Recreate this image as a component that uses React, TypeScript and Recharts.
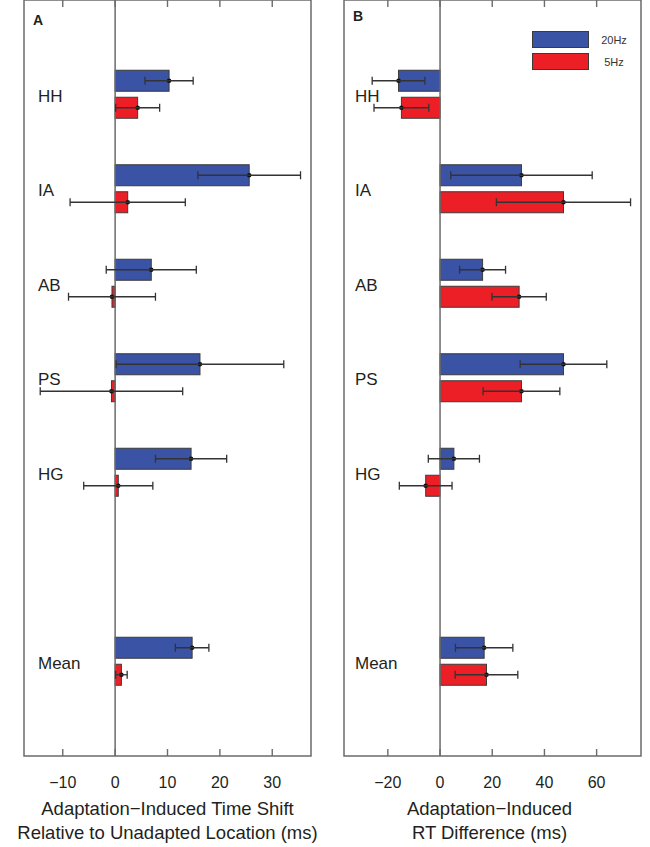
import React from 'react';
import {
    BarChart,
    Bar,
    XAxis,
    YAxis,
    ErrorBar,
    ReferenceLine,
    ReferenceArea,
    Legend,
} from 'recharts';

const REGIONS = ['HH', 'IA', 'AB', 'PS', 'HG', 'Mean'];
// row 6 is left empty between HG and Mean
const ROW_POS = [1, 2, 3, 4, 5, 7];

const SHIFT_20HZ = [10.3, 25.6, 6.9, 16.2, 14.5, 14.7];
const SHIFT_20HZ_ERR = [4.6, 9.8, 8.6, 16.0, 6.8, 3.2];
const SHIFT_5HZ = [4.3, 2.4, -0.6, -0.7, 0.6, 1.2];
const SHIFT_5HZ_ERR = [4.2, 11.0, 8.3, 13.6, 6.6, 1.1];

const RT_20HZ = [-15.9, 31.2, 16.3, 47.3, 5.3, 16.9];
const RT_20HZ_ERR = [10.1, 27.1, 8.8, 16.6, 9.8, 11.0];
const RT_5HZ = [-14.8, 47.3, 30.3, 31.2, -5.5, 17.8];
const RT_5HZ_ERR = [10.5, 25.7, 10.4, 14.7, 10.1, 12.0];

const SHIFT_TICKS = [-10, 0, 10, 20, 30];
const RT_TICKS = [-20, 0, 20, 40, 60];

const BLUE = '#3a53a4';
const RED = '#ed1f26';
const INK = '#231f20';
const FRAME = '#6b6b6b';
const FONT = '"Liberation Sans", Arial, sans-serif';

const fmtTick = (v: number) => (v < 0 ? '\u2212' + Math.abs(v) : String(v));

const BottomTick = (props: any) => {
    const { x, y, payload } = props;
    return (
        <g>
            <line x1={x} x2={x} y1={y} y2={y - 7} stroke={FRAME} strokeWidth={1.4} />
            <text
                x={x}
                y={y + 32}
                textAnchor="middle"
                fontSize={16}
                fontFamily={FONT}
                fill={INK}
            >
                {fmtTick(payload.value)}
            </text>
        </g>
    );
};

const TopTick = (props: any) => {
    const { x, y } = props;
    return <line x1={x} x2={x} y1={y} y2={y + 7} stroke={FRAME} strokeWidth={1.4} />;
};

const makeRowTick = (inset: number) => (props: any) => {
    const { x, y, payload } = props;
    const idx = ROW_POS.indexOf(payload.value);
    return (
        <text x={x + inset} y={y + 7} textAnchor="start" fontSize={17} fontFamily={FONT} fill={INK}>
            {idx >= 0 ? REGIONS[idx] : ''}
        </text>
    );
};

const makeShape = (key: string, fill: string) => (p: any) => {
    const v = p.payload[key];
    const left = Math.min(p.x, p.x + p.width);
    const w = Math.abs(p.width);
    const end = v < 0 ? left : left + w;
    return (
        <g>
            <rect x={left} y={p.y} width={w} height={p.height} fill={fill} stroke="#3b3b3b" strokeWidth={1} />
            <circle cx={end} cy={p.y + p.height / 2} r={2.3} fill="#111" />
        </g>
    );
};

const LegendBox = (props: any) => {
    const { payload } = props;
    return (
        <div style={{ fontFamily: FONT }}>
            {(payload || []).map((entry: any) => (
                <div key={entry.value} style={{ display: 'flex', alignItems: 'center', height: 17, marginBottom: 5 }}>
                    <div
                        style={{
                            width: 55,
                            height: 15,
                            background: entry.color,
                            border: '1px solid #3b3b3b',
                        }}
                    />
                    <span style={{ width: 28, marginLeft: 11, textAlign: 'center', fontSize: 11, color: '#333' }}>
                        {entry.value}
                    </span>
                </div>
            ))}
        </div>
    );
};

interface PanelProps {
    left: number;
    width: number;
    marginLeft: number;
    marginRight: number;
    letter: string;
    letterX: number;
    letterY: number;
    rowInset: number;
    domain: [number, number];
    ticks: number[];
    v20: number[];
    e20: number[];
    v5: number[];
    e5: number[];
    title: string[];
    titleShift: number;
    legend?: boolean;
}

function Panel(p: PanelProps) {
    const data = REGIONS.map((r, i) => ({
        region: r,
        pos: ROW_POS[i],
        hz20: p.v20[i],
        hz20Err: p.e20[i],
        hz5: p.v5[i],
        hz5Err: p.e5[i],
    }));

    const titleContent = (lp: any) => {
        const vb = lp.viewBox || {};
        const cx = vb.x + vb.width / 2 + p.titleShift;
        return (
            <text textAnchor="middle" fontSize={18.5} fontFamily={FONT} fill={INK}>
                <tspan x={cx} y={vb.y + 59}>{p.title[0]}</tspan>
                <tspan x={cx} y={vb.y + 83}>{p.title[1]}</tspan>
            </text>
        );
    };

    return (
        <div style={{ position: 'absolute', left: p.left, top: 0, width: p.width, height: 847 }}>
            <BarChart
                width={p.width}
                height={847}
                data={data}
                layout="vertical"
                margin={{ top: -1, right: p.marginRight, bottom: 90, left: p.marginLeft - 1 }}
                barSize={21}
                barGap={6}
            >
                <XAxis
                    type="number"
                    domain={p.domain}
                    ticks={p.ticks}
                    allowDataOverflow
                    height={1}
                    axisLine={false}
                    tickLine={false}
                    tickSize={0}
                    tickMargin={0}
                    tick={<BottomTick />}
                    interval={0}
                    label={{ content: titleContent }}
                />
                <XAxis
                    xAxisId="top"
                    orientation="top"
                    type="number"
                    domain={p.domain}
                    ticks={p.ticks}
                    allowDataOverflow
                    height={1}
                    axisLine={false}
                    tickLine={false}
                    tickSize={0}
                    tickMargin={0}
                    tick={<TopTick />}
                    interval={0}
                />
                <YAxis
                    type="number"
                    dataKey="pos"
                    domain={[0, 8]}
                    ticks={ROW_POS}
                    width={1}
                    axisLine={false}
                    tickLine={false}
                    tickSize={0}
                    tickMargin={0}
                    interval={0}
                    tick={makeRowTick(p.rowInset)}
                />
                <ReferenceArea
                    x1={p.domain[0]}
                    x2={p.domain[1]}
                    y1={0}
                    y2={8}
                    fill="none"
                    stroke={FRAME}
                    strokeWidth={1.5}
                    ifOverflow="visible"
                />
                <ReferenceLine x={0} stroke={FRAME} strokeWidth={1.5} />
                <Bar dataKey="hz20" name="20Hz" fill={BLUE} isAnimationActive={false} shape={makeShape('hz20', BLUE)}>
                    <ErrorBar dataKey="hz20Err" direction="x" width={4} stroke="#333" strokeWidth={1.3} />
                </Bar>
                <Bar dataKey="hz5" name="5Hz" fill={RED} isAnimationActive={false} shape={makeShape('hz5', RED)}>
                    <ErrorBar dataKey="hz5Err" direction="x" width={4} stroke="#333" strokeWidth={1.3} />
                </Bar>
                {p.legend && (
                    <Legend
                        layout="vertical"
                        align="center"
                        verticalAlign="middle"
                        content={<LegendBox />}
                        wrapperStyle={{ position: 'absolute', left: 202, top: 31, width: 100 }}
                    />
                )}
            </BarChart>
            <div
                style={{
                    position: 'absolute',
                    left: p.letterX,
                    top: p.letterY,
                    fontFamily: FONT,
                    fontWeight: 'bold',
                    fontSize: 14,
                    color: INK,
                    lineHeight: 1,
                }}
            >
                {p.letter}
            </div>
        </div>
    );
}

export default function App() {
    return (
        <div style={{ position: 'absolute', left: 0, top: 0, width: 650, height: 847, background: '#fff' }}>
            <Panel
                left={0}
                width={345}
                marginLeft={24}
                marginRight={34}
                letter="A"
                letterX={33}
                letterY={13}
                rowInset={14}
                domain={[-17.4, 37.4]}
                ticks={SHIFT_TICKS}
                v20={SHIFT_20HZ}
                e20={SHIFT_20HZ_ERR}
                v5={SHIFT_5HZ}
                e5={SHIFT_5HZ_ERR}
                title={['Adaptation\u2212Induced Time Shift', 'Relative to Unadapted Location (ms)']}
                titleShift={0}
            />
            <Panel
                left={330}
                width={320}
                marginLeft={14}
                marginRight={9}
                letter="B"
                letterX={23}
                letterY={9}
                rowInset={11}
                domain={[-36.8, 77]}
                ticks={RT_TICKS}
                v20={RT_20HZ}
                e20={RT_20HZ_ERR}
                v5={RT_5HZ}
                e5={RT_5HZ_ERR}
                title={['Adaptation\u2212Induced', 'RT Difference (ms)']}
                titleShift={-3}
                legend
            />
        </div>
    );
}
